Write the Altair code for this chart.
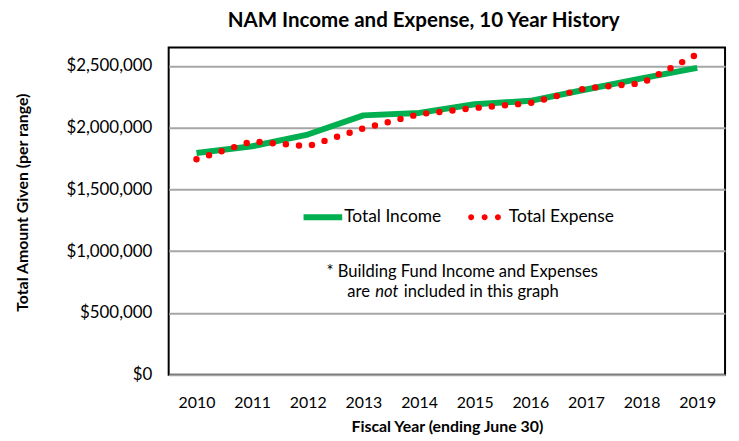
import altair as alt
import pandas as pd

years = ["2010", "2011", "2012", "2013", "2014", "2015", "2016", "2017", "2018", "2019"]
income = [1795000, 1850000, 1945000, 2100000, 2120000, 2190000, 2218000, 2310000, 2400000, 2485000]
expense = [1745000, 1890000, 1850000, 1995000, 2110000, 2160000, 2200000, 2320000, 2360000, 2595000]
series_names = ["Total Income", "Total Expense"]
y_ticks = [0, 500000, 1000000, 1500000, 2000000, 2500000]
title_text = "NAM Income and Expense, 10 Year History"

FONT = "Lato"
GREEN = "#00B050"
RED = "#FF0000"

df = pd.DataFrame({"year": years, "Total Income": income, "Total Expense": expense})
long = df.melt("year", var_name="series", value_name="amount")

W, H = 561, 330

x_enc = alt.X(
    "year:O",
    scale=alt.Scale(type="point", padding=0.5),
    axis=alt.Axis(
        title="Fiscal Year (ending June 30)",
        labelAngle=0, labelFont=FONT, labelFontSize=16, labelColor="#000",
        labelPadding=20, ticks=False, domain=False, grid=False,
        titleFont=FONT, titleFontSize=16, titleFontWeight="bold", titleColor="#000",
        titlePadding=8,
    ),
)
y_scale = alt.Scale(domain=[0, 2650000], nice=False)
y_enc = alt.Y(
    "amount:Q",
    scale=y_scale,
    axis=alt.Axis(
        title="Total Amount Given (per range)",
        values=y_ticks, format="$,.0f",
        labelFont=FONT, labelFontSize=17, labelColor="#000", labelPadding=17,
        ticks=False, tickSize=0, domain=False,
        grid=True, gridColor="#A6A6A6", gridWidth=2,
        titleFont=FONT, titleFontSize=16, titleFontWeight="bold", titleColor="#000",
        titleAngle=-90, titleX=-142, titleY=156, titleAlign="center", titleBaseline="alphabetic",
    ),
)

base = alt.Chart(long)

income_line = base.transform_filter(alt.datum.series == "Total Income").mark_line(
    color=GREEN, strokeWidth=6, strokeCap="butt", strokeJoin="round"
).encode(x=x_enc, y=y_enc)

expense_line = base.transform_filter(alt.datum.series == "Total Expense").mark_line(
    color=RED, strokeWidth=6.5, strokeDash=[0, 13.3], strokeCap="round"
).encode(x="year:O", y="amount:Q")

path_income = "M-1,-0.15 L0.95,-0.15 L0.95,0.15 L-1,0.15 Z"
def circle(cx, r):
    return (f"M{cx - r},0 A{r},{r} 0 1,0 {cx + r},0 A{r},{r} 0 1,0 {cx - r},0 Z")
path_expense = circle(-0.85, 0.15) + " " + circle(-0.17, 0.15) + " " + circle(0.5, 0.15)

legend = alt.Legend(
    title=None, orient="none", legendX=136, legendY=151, direction="horizontal",
    labelFont=FONT, labelFontSize=17.5, labelColor="#000", labelOffset=1,
    symbolSize=1600, symbolStrokeWidth=0, columnPadding=27, padding=0,
)

legend_layer = base.transform_filter("false").mark_point(filled=True, opacity=1).encode(
    x="year:O",
    y="amount:Q",
    color=alt.Color("series:N", scale=alt.Scale(domain=series_names, range=[GREEN, RED]), legend=legend),
    shape=alt.Shape("series:N", scale=alt.Scale(domain=series_names, range=[path_income, path_expense]), legend=legend),
)

note_df = pd.DataFrame({"t": ["x"]})
def note(text, x, y, align, style="normal", size=16.7, weight="normal", baseline="middle"):
    return alt.Chart(note_df).mark_text(
        text=text, font=FONT, fontSize=size, color="#000", align=align, baseline=baseline,
        fontStyle=style, fontWeight=weight,
    ).encode(x=alt.value(x), y=alt.value(y))

notes = [
    note("* Building Fund Income and Expenses", 296, 226, "center"),
    note("are", 203, 247, "right"),
    note("not", 220, 247, "center", "italic"),
    note("included in this graph", 237, 247, "left"),
]

title_mark = note(title_text, 257, -21, "center", size=20.7, weight="bold", baseline="alphabetic")

chart = alt.layer(income_line, expense_line, legend_layer, *notes, title_mark).properties(
    width=W, height=H,
    autosize=alt.AutoSizeParams(type="none"),
    padding={"left": 162, "top": 38, "right": 6, "bottom": 65},
).configure(
    background="white"
).configure_view(
    stroke="#000", strokeWidth=2
)

chart.save("out.html", embed_options={"renderer": "svg", "actions": False})
